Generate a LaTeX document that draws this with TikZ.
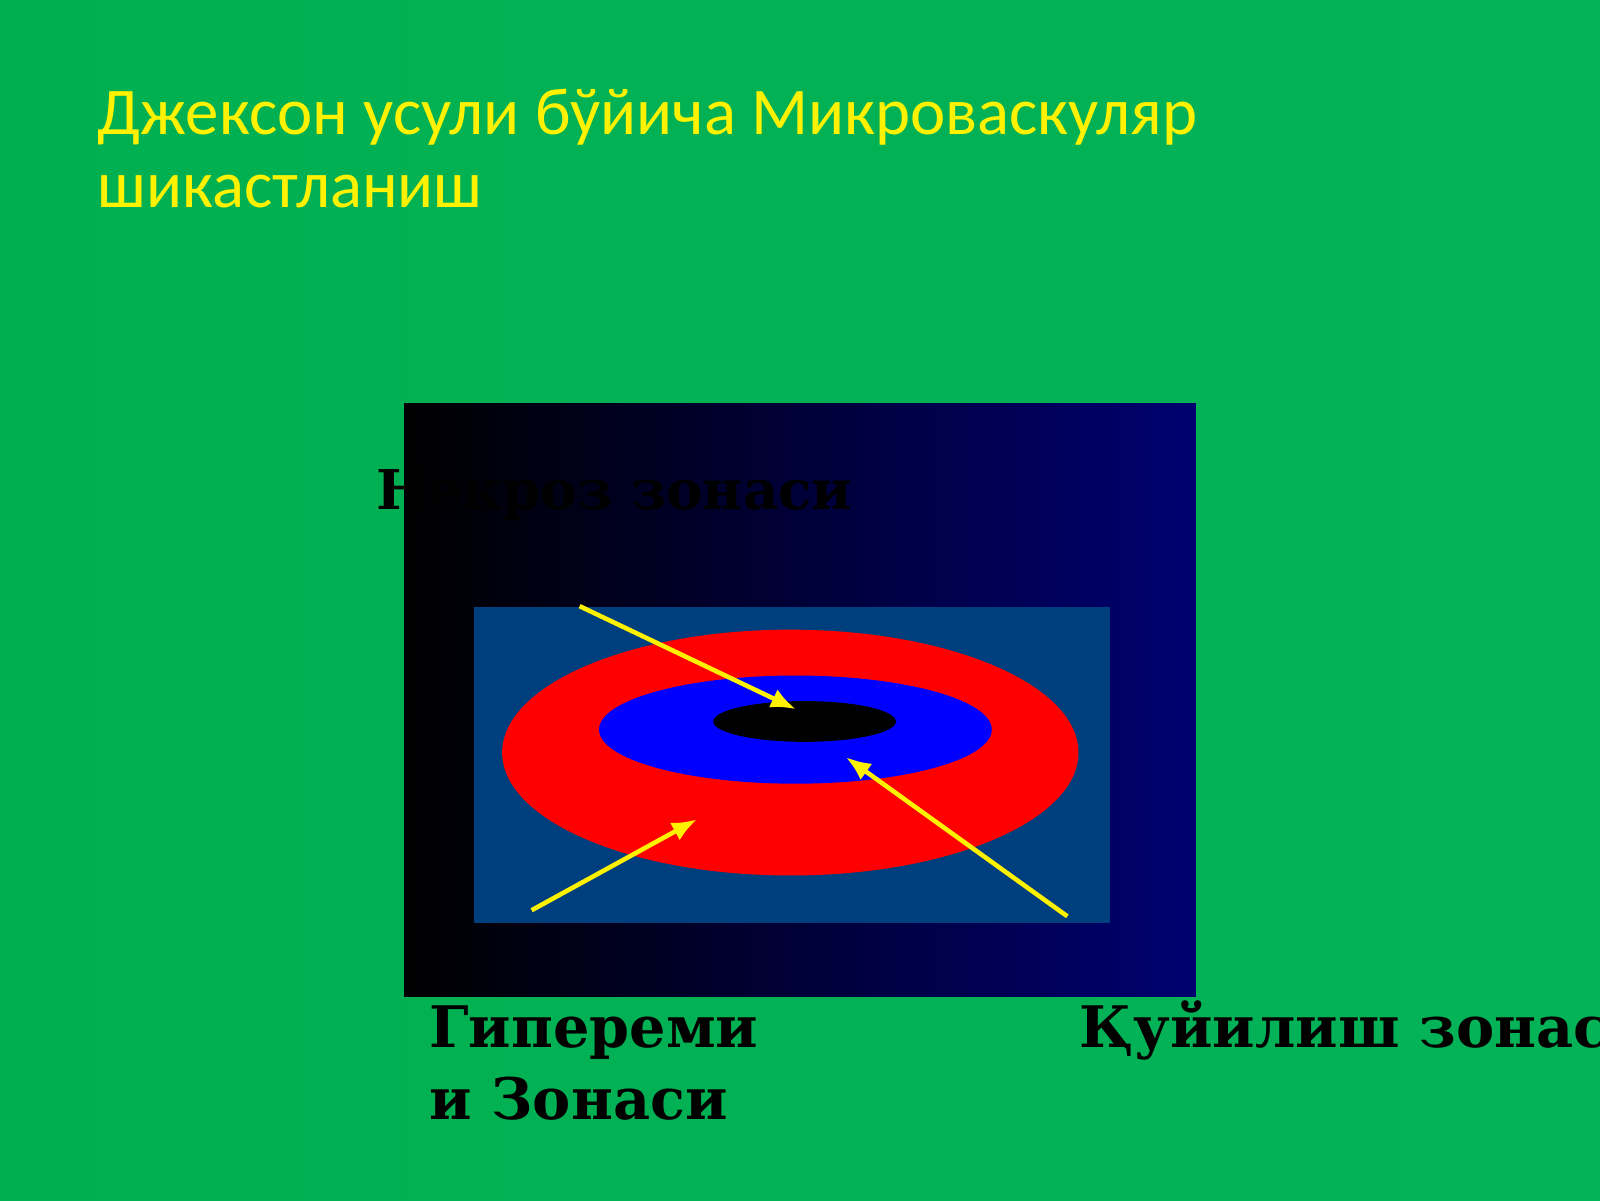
\documentclass[tikz,border=0pt]{standalone}
\usepackage{fontspec}
\setmainfont{Carlito}
\newfontfamily\zonefont{DejaVu Serif}
\usetikzlibrary{shapes.geometric, arrows.meta, positioning, calc}
\definecolor{slidegreen}{RGB}{0,176,80}
\definecolor{slidegreenlight}{RGB}{4,178,88}
\definecolor{navy}{RGB}{0,0,112}
\definecolor{fieldblue}{RGB}{0,63,125}
\definecolor{burnblue}{RGB}{0,0,255}
\tikzstyle{titletext} = [anchor=base west, inner sep=0pt, text=yellow, font=\fontsize{19}{20.6}\selectfont]
\tikzstyle{zone} = [ellipse, inner sep=0pt, draw=none]
\tikzstyle{zonelabel} = [anchor=base west, inner sep=0pt, text=black, font=\zonefont\bfseries\fontsize{16.3}{20}\selectfont]
\tikzstyle{arrow} = [line width=1.3pt,-{Latex[length=2.5mm,width=2mm]},yellow]

\begin{document}
\begin{tikzpicture}[x=0.0102041cm,y=-0.0102041cm]
    \useasboundingbox (0,0) rectangle (1568,1176);
    \shade[left color=slidegreen, right color=slidegreenlight] (0,0) rectangle (1568,1176);

    % title
    \node[titletext] (title1) at (95,132) {Джексон усули бўйича Микроваскуляр};
    \node[titletext] (title2) at (95,203) {шикастланиш};

    % panel
    \shade[left color=black, right color=navy] (396,395) rectangle (1172,977);
    \fill[fieldblue] (465,595) rectangle (1088,905);
    \node[zone, fill=red, minimum width=5.765cm, minimum height=2.459cm] (stasis) at (774.5,737.5) {};
    \node[zone, fill=burnblue, minimum width=3.929cm, minimum height=1.082cm] (ischemia) at (779.5,715) {};
    \node[zone, fill=black, minimum width=1.827cm, minimum height=0.408cm] (necrosis) at (788.5,707) {};

    % labels
    \node[zonelabel, font=\zonefont\bfseries\fontsize{15.6}{20}\selectfont] (necrosislabel) at (368,499) {Некроз зонаси};
    \node[zonelabel] (hyperlabel1) at (420,1027) {Гипереми};
    \node[zonelabel] (hyperlabel2) at (420,1097) {и Зонаси};
    \node[zonelabel] (stasislabel) at (1057,1027) {Қуйилиш зонаси};

    % arrows
    \coordinate (fromnecrosis) at (568,594);
    \coordinate (tonecrosis) at (780,695);
    \coordinate (fromhyper) at (521,892);
    \coordinate (tohyper) at (683,803);
    \coordinate (fromstasis) at (1046,898);
    \coordinate (tostasis) at (829,742);
    \draw[arrow] (fromnecrosis) -- (tonecrosis);
    \draw[arrow] (fromhyper) -- (tohyper);
    \draw[arrow] (fromstasis) -- (tostasis);
\end{tikzpicture}
\end{document}
